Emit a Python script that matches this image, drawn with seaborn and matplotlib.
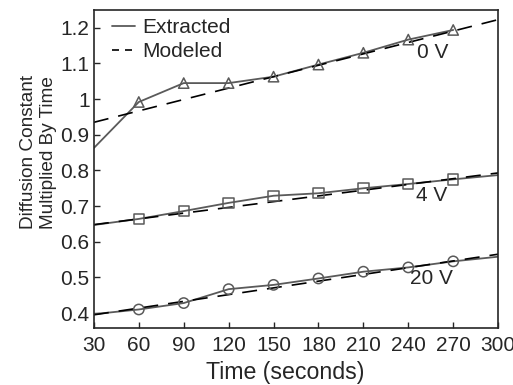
import matplotlib
matplotlib.use("Agg")
import matplotlib.pyplot as plt
import seaborn as sns
import pandas as pd

# time points
t = [30, 60, 90, 120, 150, 180, 210, 240, 270, 300]

# extracted curves; 0 V stops at 270 s
ext_0v = [0.863, 0.992, 1.045, 1.045, 1.063, 1.097, 1.130, 1.167, 1.194]
ext_4v = [0.647, 0.664, 0.686, 0.709, 0.729, 0.736, 0.750, 0.762, 0.775, 0.787]
ext_20v = [0.397, 0.410, 0.428, 0.467, 0.479, 0.497, 0.516, 0.528, 0.545, 0.558]

# modeled lines, end points
mod_t = [30, 300]
mod_0v = [0.935, 1.223]
mod_4v = [0.648, 0.793]
mod_20v = [0.395, 0.565]

labels = ["0 V", "4 V", "20 V"]
label_pos = [(246, 1.131), (245, 0.730), (241, 0.498)]
markers = ["^", "s", "o"]

sns.set_style("ticks")
plt.rcParams["font.family"] = ["Liberation Sans", "DejaVu Sans"]

fig, ax = plt.subplots(figsize=(5.13, 3.85), dpi=100)

gray = "#5a5a5a"
for i, (ext, mod) in enumerate([(ext_0v, mod_0v), (ext_4v, mod_4v), (ext_20v, mod_20v)]):
    df = pd.DataFrame({"t": t[:len(ext)], "y": ext})
    sns.lineplot(data=df, x="t", y="y", ax=ax, color=gray, lw=1.3,
                 label="Extracted" if i == 0 else None)
    # markers only at 60..270 s
    sns.scatterplot(data=df[(df.t >= 60) & (df.t <= 270)], x="t", y="y", ax=ax,
                    marker=markers[i], s=55, facecolor="none", edgecolor=gray,
                    linewidth=1.1, zorder=3)
    dm = pd.DataFrame({"t": mod_t, "y": mod})
    sns.lineplot(data=dm, x="t", y="y", ax=ax, color="black", lw=1.2,
                 dashes=(9, 6), label="Modeled" if i == 0 else None)
    ax.text(label_pos[i][0], label_pos[i][1], labels[i], fontsize=15,
            ha="left", va="center")

ax.set_xlim(30, 300)
ax.set_ylim(0.358, 1.25)
ax.set_xticks(t)
ax.set_yticks([0.4, 0.5, 0.6, 0.7, 0.8, 0.9, 1.0, 1.1, 1.2])
ax.set_yticklabels(["0.4", "0.5", "0.6", "0.7", "0.8", "0.9", "1", "1.1", "1.2"])
ax.tick_params(direction="in", labelsize=15, length=4, width=1)
ax.tick_params(axis="x", pad=6)
ax.tick_params(axis="y", pad=3)
ax.set_xlabel("Time (seconds)", fontsize=16.7)
ax.set_ylabel("Diffusion Constant\nMultiplied By Time", fontsize=13.7,
              linespacing=1.25, multialignment="left")
ax.xaxis.set_label_coords(0.473, -0.105)
ax.yaxis.set_label_coords(-0.09, 0.552)
for s in ax.spines.values():
    s.set_linewidth(1.2)

leg = ax.legend(loc="upper left", bbox_to_anchor=(0.035, 0.987), frameon=False,
                fontsize=15, handlelength=1.1, borderaxespad=0, borderpad=0.2,
                labelspacing=0.23, handletextpad=0.35)
leg.get_lines()[1].set_dashes((4.2, 3.6))

fig.subplots_adjust(left=0.183, right=0.971, top=0.974, bottom=0.148)
fig.savefig("out.png", dpi=100)
